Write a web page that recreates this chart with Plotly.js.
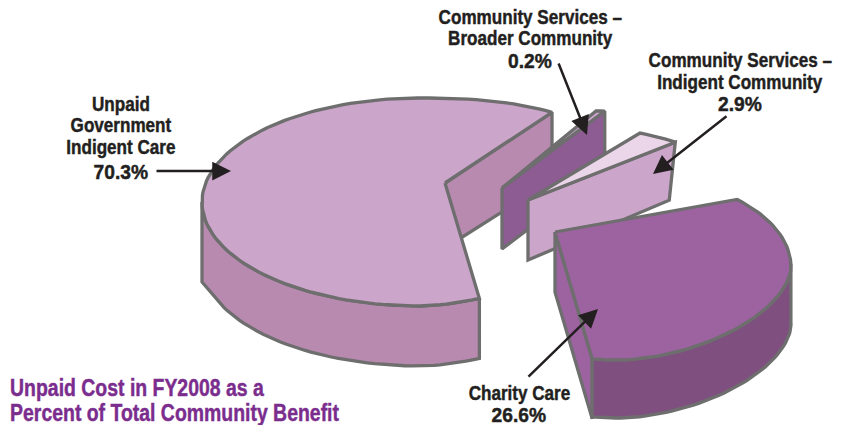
<!DOCTYPE html>
<html><head><meta charset="utf-8">
<script src="https://cdn.plot.ly/plotly-3.0.1.min.js"></script>
<style>html,body{margin:0;padding:0;background:#fff}</style></head>
<body><div id="chart" style="width:844px;height:425px"></div>
<script>
// DATA
const sliceNames = ["Unpaid Government Indigent Care", "Community Services – Broader Community", "Community Services – Indigent Community", "Charity Care"];
const sliceValues = [70.3, 0.2, 2.9, 26.6];
const labelLines = [["Unpaid", "Government", "Indigent Care"], ["Community Services –", "Broader Community"], ["Community Services –", "Indigent Community"], ["Charity Care"]];
const titleLines = ["Unpaid Cost in FY2008 as a", "Percent of Total Community Benefit"];

// VIEW of each exploded slice: the ellipse of its top face, apex, depth, colours
const views = [
 {cx:420,cy:202,a:218,b:104,nUR:2.4,nLR:1.65,start:70,stretch:0.9215,apex:[445,183],depth:60,top:"#cca5cb",side:"#b98ab0",wall:"#b98ab0",
  sideFrom:70,sideTo:180,lowTo:160,leftDrop:80,wallDepth:68,wallApexDepth:65},
 {cx:600,cy:204,a:172,b:93,start:-91.3,stretch:4,apex:[502,188],top:"#cfa9cf",wall:"#8c5c92",wallDepth:60,wallApexDepth:61},
 {cx:584,cy:221,a:172,b:93,start:-71,stretch:1.25,apex:[528,200],top:"#ebd5e8",wall:"#cca5cb",wallDepth:58,wallDx:-6,wallApexDepth:60},
 {cx:619,cy:267,a:172,b:93,nLR:1.75,start:-46.6,stretch:1.52,apex:[555,232],depth:58,top:"#9c63a0",side:"#7f4f7f",wall:"#9c63a0",
  sideFrom:-2,sideTo:99,wallDepth:60,wallApexDepth:60}
];
const labelAt = [
 {x:121,ys:[104,125,147],pctY:171},
 {x:530,ys:[17,38],pctY:60},
 {x:740,ys:[60,82],pctY:103},
 {x:519,ys:[393],pctY:414}
];
const pointers = [[155,171,231,171],[558,62,587,135],[728,115,653,174],[527,378,598,309]];
const titlePos = {x:8,ys:[387,412]};

const edge = "#6e6e6e", ink = "#231f20", purple = "#7b2d8e";
const face = "'Liberation Sans',Arial,sans-serif";
const labelSqueeze = 0.855, pctSqueeze = 0.916, titleSqueeze = 0.81;

function pt(v,tDeg){
  const t=tDeg*Math.PI/180; let c=Math.cos(t), s=Math.sin(t);
  const n = c>0 ? (s<0 ? v.nUR : v.nLR) : undefined;
  if(n){ c=Math.pow(Math.abs(c),2/n)*Math.sign(c); s=Math.pow(Math.abs(s),2/n)*Math.sign(s); }
  return [v.cx+v.a*c, v.cy+v.b*s];
}
function arc(v,t0,t1){const n=Math.max(2,Math.ceil(Math.abs(t1-t0)/2)),o=[];for(let i=0;i<=n;i++)o.push(pt(v,t0+(t1-t0)*i/n));return o;}
function poly(points,fill){
  const c=points.concat([points[0]]);
  return {type:"scatter",mode:"lines",x:c.map(p=>p[0]),y:c.map(p=>p[1]),fill:"toself",fillcolor:fill,
    line:{color:edge,width:3.3,shape:"linear"},hoverinfo:"skip",showlegend:false};
}
const traces=[];
sliceValues.forEach((val,i)=>{
  const v=views[i];
  const t0=v.start, t1=v.start+val*3.6*v.stretch;
  const wp=pt(v,t1);
  const ap=v.apex;
  traces.push(poly([ap,wp,[wp[0]+(v.wallDx||0),wp[1]+v.wallDepth],[ap[0],ap[1]+v.wallApexDepth]],v.wall));
  if(v.side){
    const top=arc(v,v.sideFrom,v.sideTo);
    const lowEnd=v.lowTo!==undefined?v.lowTo:v.sideTo;
    const low=arc(v,lowEnd,v.sideFrom).map(p=>[p[0],p[1]+v.depth]);
    const pts=top.slice();
    if(v.leftDrop){const e=top[top.length-1];pts.push([e[0],e[1]+v.leftDrop]);}
    traces.push(poly(pts.concat(low),v.side));
  }
  traces.push(poly([ap].concat(arc(v,t0,t1)),v.top));
});

const annotations=[];
pointers.forEach(p=>annotations.push({xref:"x",yref:"y",axref:"x",ayref:"y",x:p[2],y:p[3],ax:p[0],ay:p[1],text:"",
  showarrow:true,arrowhead:2,arrowsize:1.5,arrowwidth:2.5,arrowcolor:ink,standoff:0,startstandoff:0}));
labelLines.forEach((lines,i)=>{
  const L=labelAt[i];
  lines.forEach((s,k)=>annotations.push({xref:"x",yref:"y",x:L.x,y:L.ys[k],text:s,showarrow:false,xanchor:"center",yanchor:"middle",
    font:{family:face,size:20,color:ink,weight:700}}));
  annotations.push({xref:"x",yref:"y",x:L.x,y:L.pctY,text:sliceValues[i].toFixed(1)+"%",showarrow:false,xanchor:"center",yanchor:"middle",
    font:{family:face,size:21,color:ink,weight:700}});
});
titleLines.forEach((s,k)=>annotations.push({xref:"x",yref:"y",x:titlePos.x,y:titlePos.ys[k],text:s,showarrow:false,xanchor:"left",yanchor:"middle",
  font:{family:face,size:24,color:purple,weight:700}}));

Plotly.newPlot("chart",traces,{
  width:844,height:425,margin:{l:0,r:0,t:0,b:0},paper_bgcolor:"#fff",plot_bgcolor:"#fff",showlegend:false,
  xaxis:{range:[0,844],visible:false,fixedrange:true},
  yaxis:{range:[425,0],visible:false,fixedrange:true},
  annotations
},{displayModeBar:false,staticPlot:true}).then(()=>{
  // the source type is a heavy condensed face: squeeze and embolden the real text
  document.querySelectorAll("#chart text.annotation-text").forEach(el=>{
    const s=el.textContent; if(!s) return;
    const bb=el.getBBox();
    const isTitle=titleLines.includes(s);
    const f=isTitle?titleSqueeze:(s.endsWith("%")?pctSqueeze:labelSqueeze);
    const anchor=isTitle?bb.x:bb.x+bb.width/2;
    el.setAttribute("transform",`translate(${anchor*(1-f)} 0) scale(${f} 1)`);
    el.style.stroke=isTitle?purple:ink;
    el.style.strokeWidth="0.45px";
  });
});
</script></body></html>
